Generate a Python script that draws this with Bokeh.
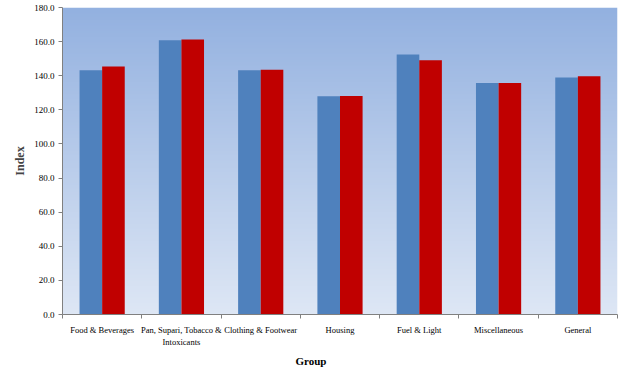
import numpy as np
from bokeh.plotting import figure
from bokeh.models import FixedTicker, Range1d, Title
from bokeh.embed import file_html
from bokeh.resources import INLINE

categories = ["Food & Beverages", "Pan, Supari, Tobacco &\nIntoxicants", "Clothing & Footwear",
              "Housing", "Fuel & Light", "Miscellaneous", "General"]
series_a = [143.2, 160.8, 143.2, 128.0, 152.5, 135.7, 138.9]
series_b = [145.4, 161.3, 143.5, 128.1, 149.0, 135.7, 139.7]
y_ticks = [0, 20, 40, 60, 80, 100, 120, 140, 160, 180]

n = len(categories)
bar_w = 0.285

p = figure(width=619, height=369, output_backend="svg", toolbar_location=None,
           x_range=Range1d(0, n), y_range=Range1d(0, 180),
           min_border_left=62, min_border_right=2, min_border_top=7, min_border_bottom=54)
p.background_fill_color = "white"
p.border_fill_color = "white"
p.outline_line_color = None
p.grid.visible = False

# gradient background of the plot area
N = 200
top = np.array([147, 177, 224])
bot = np.array([222, 231, 245])
t = np.linspace(0, 1, N)[:, None]
cols = (bot * (1 - t) + top * t).astype(np.uint32)
img = np.empty((N, 1), dtype=np.uint32)
view = img.view(dtype=np.uint8).reshape((N, 1, 4))
view[:, 0, 0] = cols[:, 0]
view[:, 0, 1] = cols[:, 1]
view[:, 0, 2] = cols[:, 2]
view[:, 0, 3] = 255
p.image_rgba(image=[img], x=0, y=0, dw=n, dh=180)

xs = np.arange(n) + 0.5
p.vbar(x=xs - bar_w / 2, top=series_a, width=bar_w, fill_color="#4f81bd", line_color=None)
p.vbar(x=xs + bar_w / 2, top=series_b, width=bar_w, fill_color="#c00000", line_color=None)

# x axis: labels at centers, ticks at category boundaries
p.xaxis.ticker = FixedTicker(ticks=list(xs), minor_ticks=list(range(n + 1)))
p.xaxis.major_label_overrides = {float(x): c for x, c in zip(xs, categories)}
p.xaxis.major_tick_out = 0
p.xaxis.major_tick_in = 0
p.xaxis.minor_tick_out = 4
p.xaxis.minor_tick_in = 0
p.xaxis.minor_tick_line_color = "#808080"
p.xaxis.axis_line_color = "#808080"
p.xaxis.major_label_text_font = "Liberation Serif"
p.xaxis.major_label_text_font_size = "8.5px"
p.xaxis.major_label_text_color = "#000000"
p.xaxis.major_label_standoff = 6
p.xaxis.axis_label = None

group_title = Title(text="Group", align="left", offset=233, standoff=6,
                    text_font="Liberation Serif", text_font_style="bold",
                    text_font_size="11px", text_color="#000000")
p.add_layout(group_title, "below")

p.yaxis.ticker = FixedTicker(ticks=y_ticks)
p.yaxis.major_label_overrides = {v: f"{v:.1f}" for v in y_ticks}
p.yaxis.major_tick_out = 4
p.yaxis.major_tick_in = 0
p.yaxis.minor_tick_line_color = None
p.yaxis.major_tick_line_color = "#808080"
p.yaxis.axis_line_color = "#808080"
p.yaxis.major_label_text_font = "Liberation Serif"
p.yaxis.major_label_text_font_size = "9px"
p.yaxis.major_label_text_color = "#000000"
p.yaxis.major_label_standoff = 4
p.yaxis.axis_label = "Index"
p.yaxis.axis_label_text_font = "Liberation Serif"
p.yaxis.axis_label_text_font_style = "bold"
p.yaxis.axis_label_text_font_size = "12px"
p.yaxis.axis_label_standoff = 4

open("out.html", "w").write(file_html(p, INLINE))
